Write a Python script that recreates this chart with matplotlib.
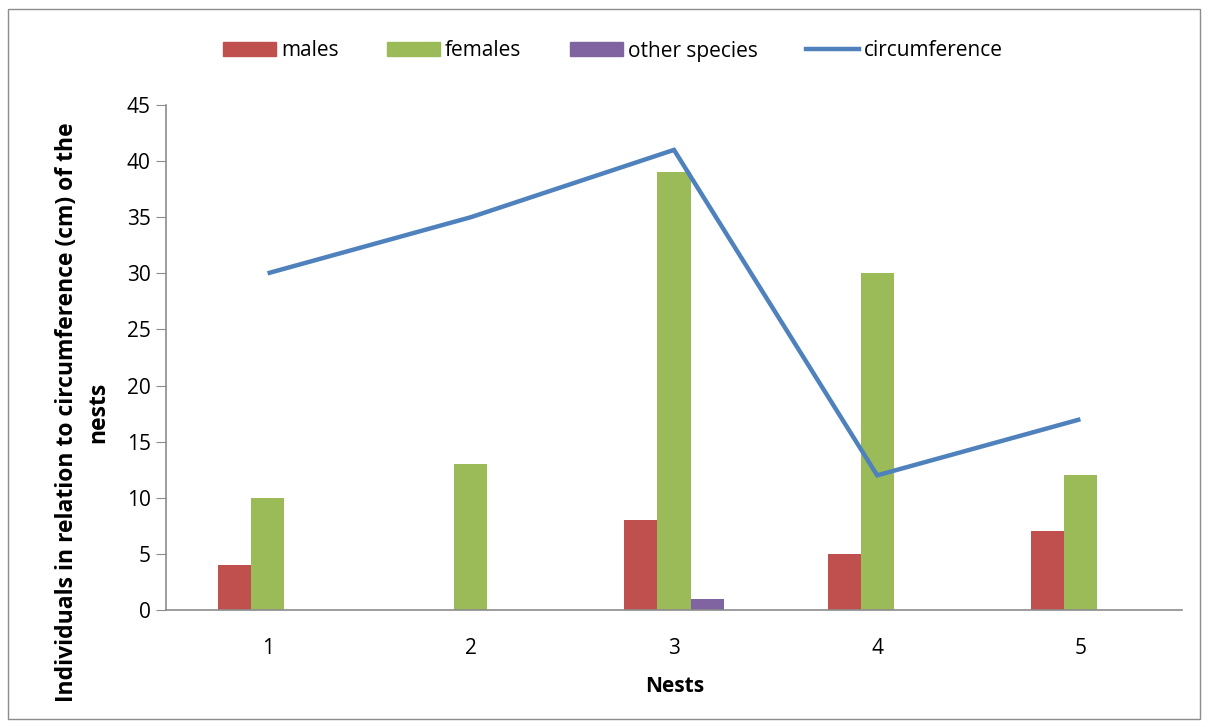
import matplotlib
matplotlib.use("Agg")
import matplotlib.pyplot as plt
import numpy as np
from matplotlib.patches import Rectangle, Patch
from matplotlib.lines import Line2D

nests = ["1", "2", "3", "4", "5"]
males = [4, 0, 8, 5, 7]
females = [10, 13, 39, 30, 12]
other_species = [0, 0, 1, 0, 0]
circumference = [30, 35, 41, 12, 17]
y_ticks = [0, 5, 10, 15, 20, 25, 30, 35, 40, 45]

c_m, c_f, c_o, c_l = "#C0504D", "#9BBB59", "#8064A2", "#4F81BD"
plt.rcParams['font.family'] = ['Open Sans', 'DejaVu Sans']

W, H = 1209, 727
fig = plt.figure(figsize=(W/100, H/100), dpi=100)
ax = fig.add_axes([166/W, 1-610/H, (1182-166)/W, (610-105)/H])

x = np.arange(1, 6)
bw = 0.163
ax.bar(x - bw, males, bw, color=c_m)
ax.bar(x, females, bw, color=c_f)
ax.bar(x + bw, other_species, bw, color=c_o)
ax.plot(x, circumference, color=c_l, lw=3.2, solid_capstyle='butt', solid_joinstyle='miter')

ax.set_xlim(0.5, 5.5)
ax.set_ylim(0, 45)
ax.set_yticks(y_ticks)
ax.set_xticks(x)
ax.set_xticklabels(nests)
for s in ["top", "right"]:
    ax.spines[s].set_visible(False)
for s in ["left", "bottom"]:
    ax.spines[s].set_color("#8c8c8c")
    ax.spines[s].set_linewidth(1.2)
ax.tick_params(axis='y', length=7, color="#8c8c8c", labelsize=15, pad=4)
ax.tick_params(axis='x', length=0, labelsize=15, pad=20)

fig.text(675/W, 1-686/H, "Nests", ha='center', va='center', fontsize=15, fontweight='bold')
fig.text(67/W, 1-412/H, "Individuals in relation to circumference (cm) of the", rotation=90,
         ha='center', va='center', fontsize=16.5, fontweight='bold')
fig.text(98/W, 1-412/H, "nests", rotation=90, ha='center', va='center', fontsize=16.5, fontweight='bold')

handles = [Patch(color=c_m), Patch(color=c_f), Patch(color=c_o),
           Line2D([0], [0], color=c_l, lw=3.2)]
labels = ["males", "females", "other species", "circumference"]
fig.legend(handles, labels, loc='center', bbox_to_anchor=(613/W, 1-51/H), ncol=4, frameon=False,
           fontsize=15, handlelength=2.55, handleheight=0.67, handletextpad=0.25, columnspacing=2.3)

fig.add_artist(Rectangle((8/W, 8/H), (1200-8)/W, (718-8)/H, transform=fig.transFigure,
                         fill=False, edgecolor="#8c8c8c", lw=1))
fig.savefig("out.png", dpi=100)
